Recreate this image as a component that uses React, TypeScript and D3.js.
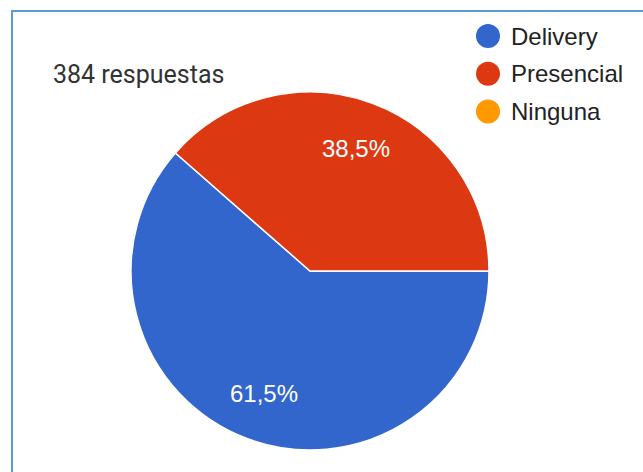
import React, { useRef, useEffect } from 'react'
import * as d3 from 'd3'

// datos
const categories = ['Delivery', 'Presencial', 'Ninguna']
const counts = [236, 148, 0]
const colors = ['#3366cc', '#dc3912', '#ff9900']
const totalLabel = '384 respuestas'

const width = 643
const height = 472

function App() {
  const ref = useRef<SVGSVGElement>(null)

  useEffect(() => {
    const svg = d3.select(ref.current)
    svg.selectAll('*').remove()

    // marco azul
    svg.append('path')
      .attr('d', `M12,${height} L12,11 L${width},11`)
      .attr('fill', 'none')
      .attr('stroke', '#5b9bd5')
      .attr('stroke-width', 2)

    svg.append('text')
      .attr('x', 53)
      .attr('y', 83)
      .text(totalLabel)
      .attr('font-family', 'Roboto, sans-serif')
      .attr('font-size', 25)
      .attr('fill', '#333')

    const total = d3.sum(counts)
    const data = categories.map((c, i) => ({ name: c, value: counts[i], color: colors[i] }))

    const radius = 179
    const cx = 310
    const cy = 271

    const pie = d3.pie<any>()
      .value(d => d.value)
      .sort(null)
      .startAngle(Math.PI / 2)
      .endAngle(Math.PI / 2 + 2 * Math.PI)

    const arc = d3.arc<any>().innerRadius(0).outerRadius(radius)
    const labelArc = d3.arc<any>().innerRadius(radius * 0.73).outerRadius(radius * 0.73)

    const g = svg.append('g').attr('transform', `translate(${cx},${cy})`)
    const arcs = pie(data).filter(d => d.data.value > 0)

    g.selectAll('path.slice')
      .data(arcs)
      .enter()
      .append('path')
      .attr('class', 'slice')
      .attr('d', arc)
      .attr('fill', d => d.data.color)
      .attr('stroke', '#fff')
      .attr('stroke-width', 1.5)

    g.selectAll('text.pct')
      .data(arcs)
      .enter()
      .append('text')
      .attr('class', 'pct')
      .attr('transform', d => `translate(${labelArc.centroid(d)})`)
      .attr('text-anchor', 'middle')
      .attr('dominant-baseline', 'central')
      .attr('font-family', 'Arial, "Liberation Sans", sans-serif')
      .attr('font-size', 24)
      .attr('fill', '#fff')
      .text(d => (d.data.value / total * 100).toFixed(1).replace('.', ',') + '%')

    // leyenda
    const legend = svg.append('g')
    categories.forEach((c, i) => {
      const y = 36 + i * 37.7
      legend.append('circle')
        .attr('cx', 488)
        .attr('cy', y)
        .attr('r', 12)
        .attr('fill', colors[i])
      legend.append('text')
        .attr('x', 511)
        .attr('y', y + 8.5)
        .text(c)
        .attr('font-family', 'Arial, "Liberation Sans", sans-serif')
        .attr('font-size', 24)
        .attr('fill', '#222')
    })
  }, [])

  return (
    <div style={{ position: 'absolute', left: 0, top: 0 }}>
      <svg ref={ref} width={width} height={height} style={{ display: 'block', background: '#fff' }} />
    </div>
  )
}

export default App
